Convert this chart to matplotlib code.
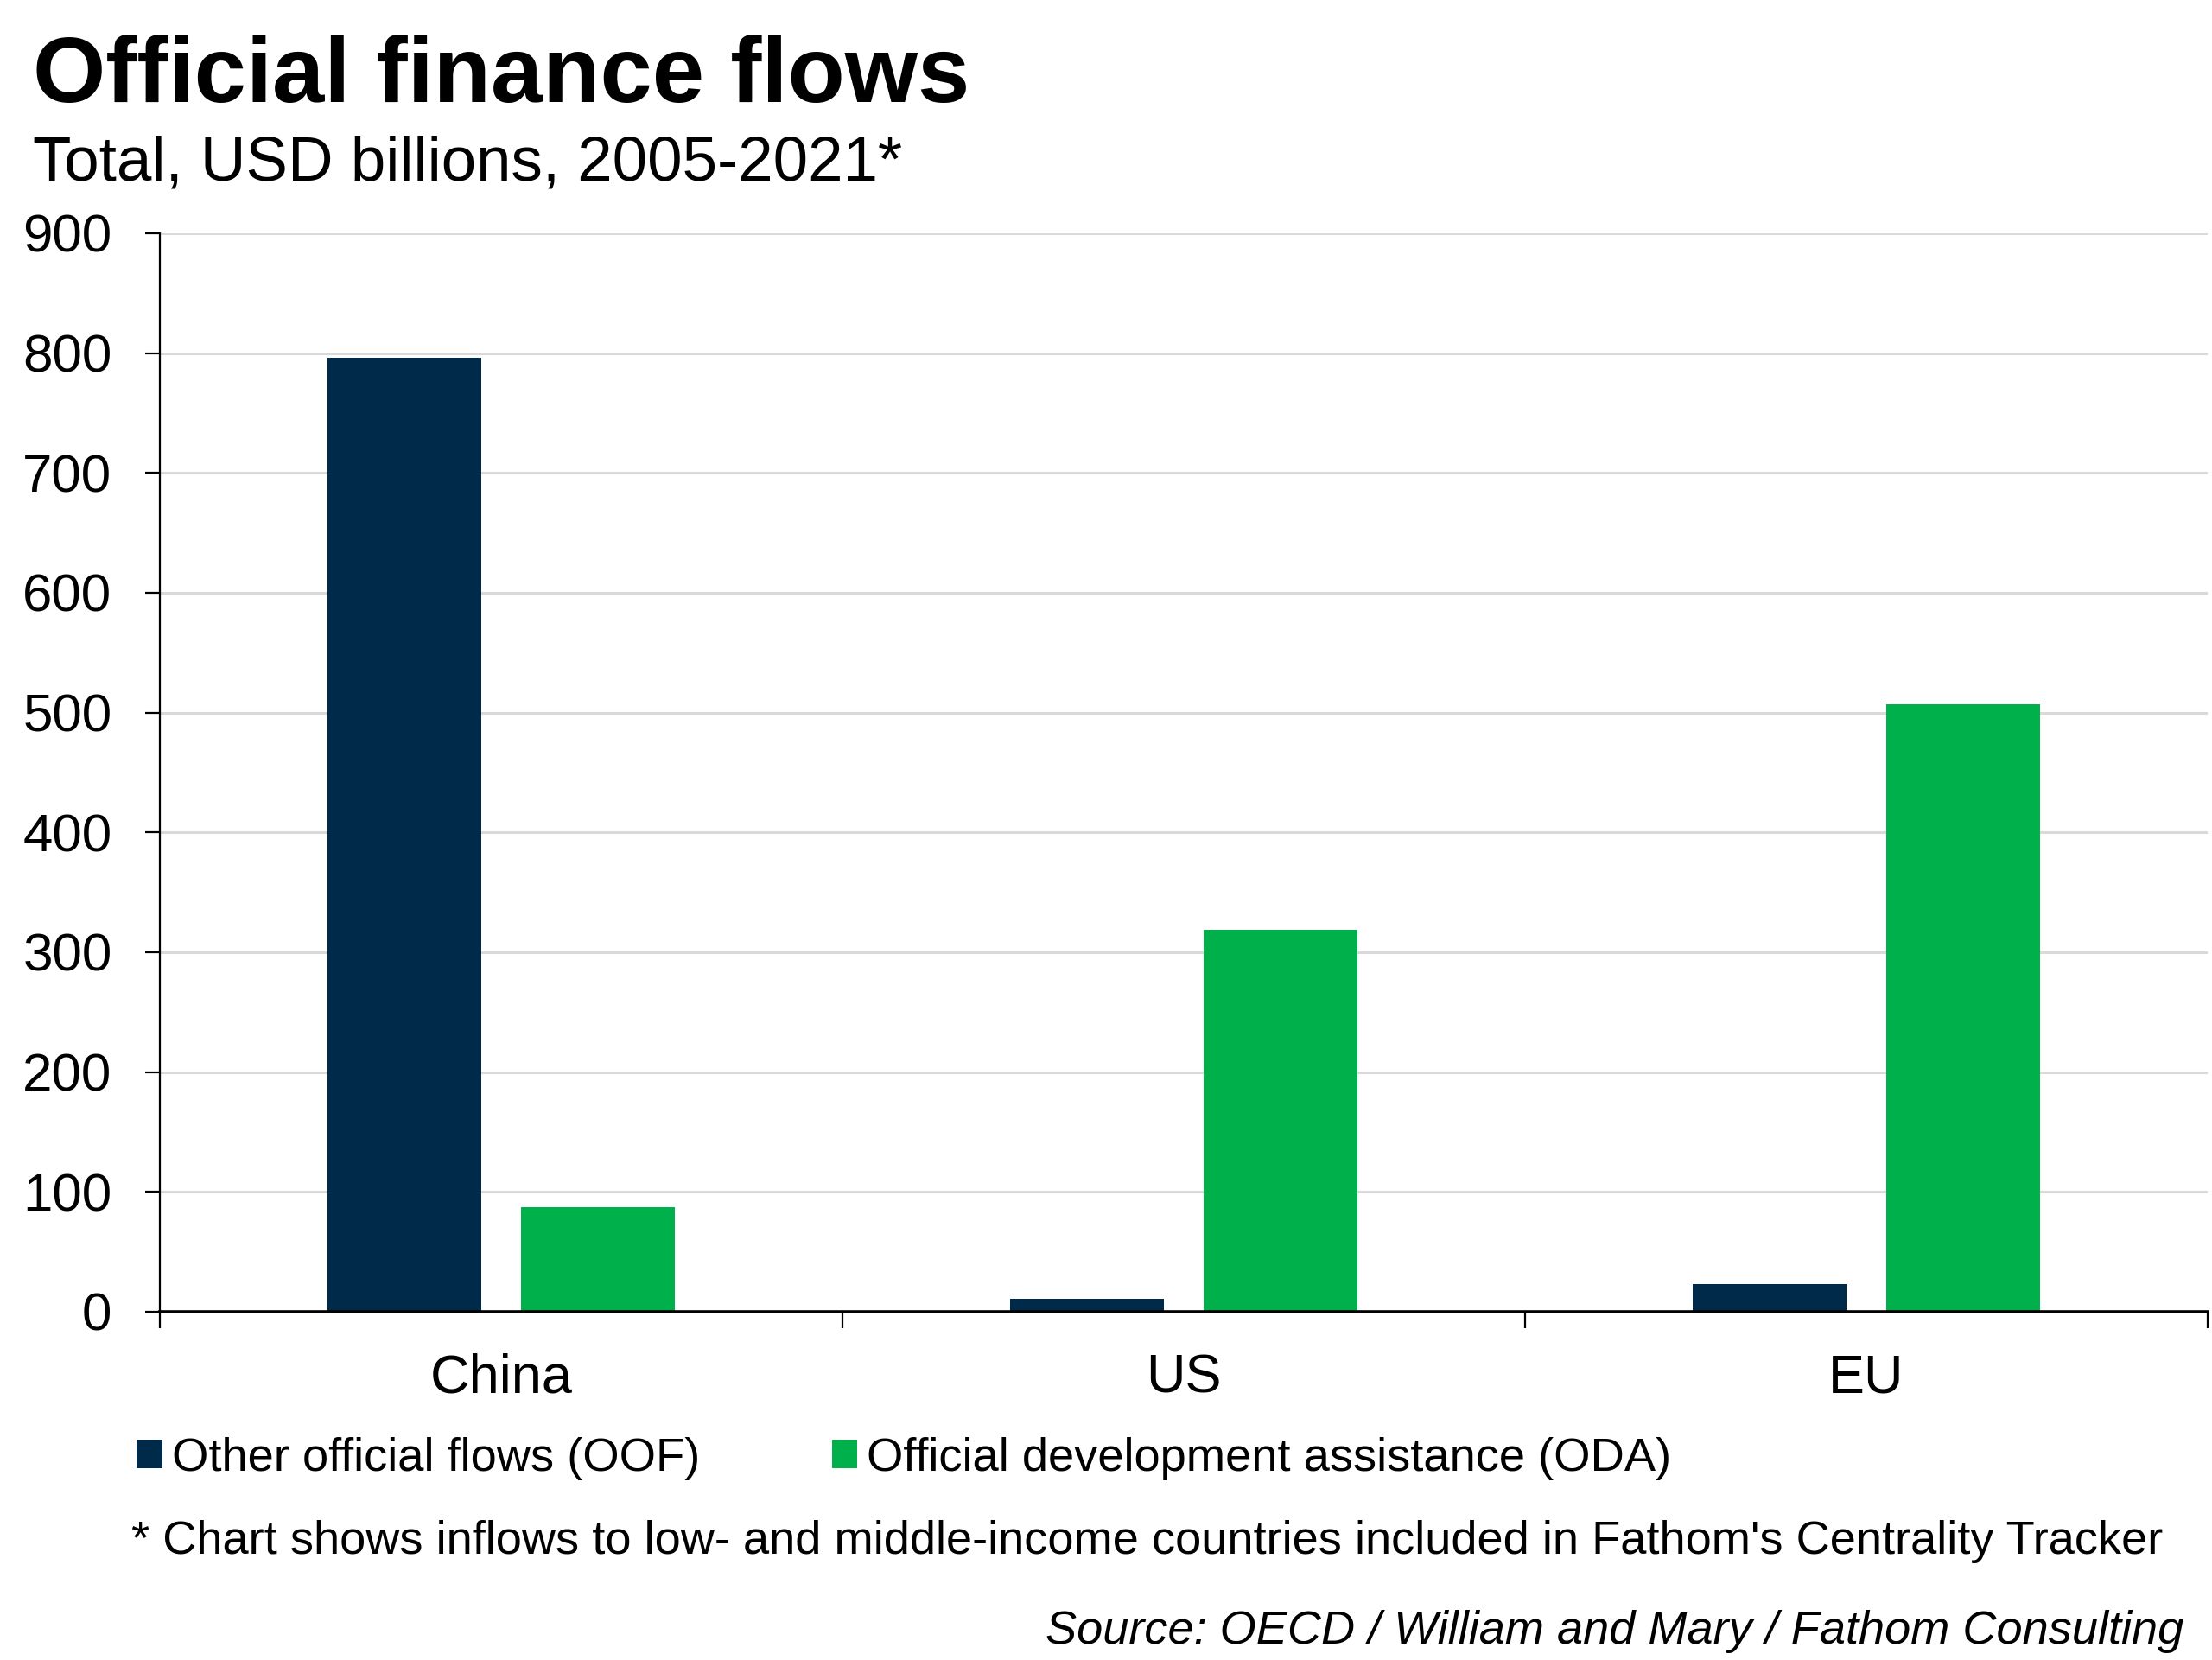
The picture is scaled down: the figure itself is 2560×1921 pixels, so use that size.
import matplotlib
matplotlib.use("Agg")
import matplotlib.pyplot as plt
from matplotlib.patches import Patch
import numpy as np

# data (USD billions, 2005-2021)
regions = ["China", "US", "EU"]
oof = [796, 11, 23]
oda = [87, 319, 507]
series_names = ["Other official flows (OOF)", "Official development assistance (ODA)"]
yticks = [0, 100, 200, 300, 400, 500, 600, 700, 800, 900]

navy = "#002A4A"
green = "#00B04A"

plt.rcParams["font.family"] = ["Liberation Sans", "DejaVu Sans"]

W, H = 2560, 1921
fig = plt.figure(figsize=(W / 200, H / 200), dpi=200)
ax = fig.add_axes([185 / W, 1 - 1518 / H, (2555 - 185) / W, (1518 - 270) / H])

x = np.arange(len(regions))
bw = 0.225
off = 0.142
ax.bar(x - off, oof, width=bw, color=navy, zorder=3)
ax.bar(x + off, oda, width=bw, color=green, zorder=3)

ax.set_xlim(-0.5, len(regions) - 0.5)
ax.set_ylim(0, 900)
ax.set_yticks(yticks)
ax.set_yticklabels([str(v) for v in yticks])
ax.grid(axis="y", color="#d9d9d9", linewidth=1.1, zorder=0)
ax.set_axisbelow(True)

# category labels centred, tick marks between categories
ax.set_xticks(x)
ax.set_xticklabels(regions)
ax.set_xticks(np.arange(-0.5, len(regions)), minor=True)
ax.tick_params(axis="x", which="major", length=0, pad=17, labelsize=22.7)
ax.tick_params(axis="x", which="minor", length=7, width=0.8, direction="out")
ax.tick_params(axis="y", length=6, width=0.8, pad=14, labelsize=22.3)

for s in ["top", "right"]:
    ax.spines[s].set_visible(False)
ax.spines["left"].set_linewidth(0.8)
ax.spines["bottom"].set_linewidth(1.3)
ax.spines["bottom"].set_zorder(4)

# titles
fig.text(38 / W, 1 - 118 / H, "Official finance flows", fontsize=39,
         fontweight="bold", ha="left", va="baseline")
fig.text(38 / W, 1 - 208 / H, "Total, USD billions, 2005-2021*", fontsize=26.2,
         ha="left", va="baseline")

# legend
handles = [Patch(facecolor=navy), Patch(facecolor=green)]
fig.legend(handles, series_names, loc="upper left",
           bbox_to_anchor=(158 / W, 1 - 1663 / H), ncol=2, frameon=False,
           fontsize=19.6, handlelength=0.55, handleheight=0.55,
           handletextpad=0.2, columnspacing=2.8, borderpad=0, borderaxespad=0)

fig.text(152 / W, 1 - 1798 / H,
         "* Chart shows inflows to low- and middle-income countries included in Fathom's Centrality Tracker",
         fontsize=19.55, ha="left", va="baseline")
fig.text(2527 / W, 1 - 1902 / H, "Source: OECD / William and Mary / Fathom Consulting",
         fontsize=19.5, style="italic", ha="right", va="baseline")

fig.savefig("out.png", dpi=200, facecolor="white")
